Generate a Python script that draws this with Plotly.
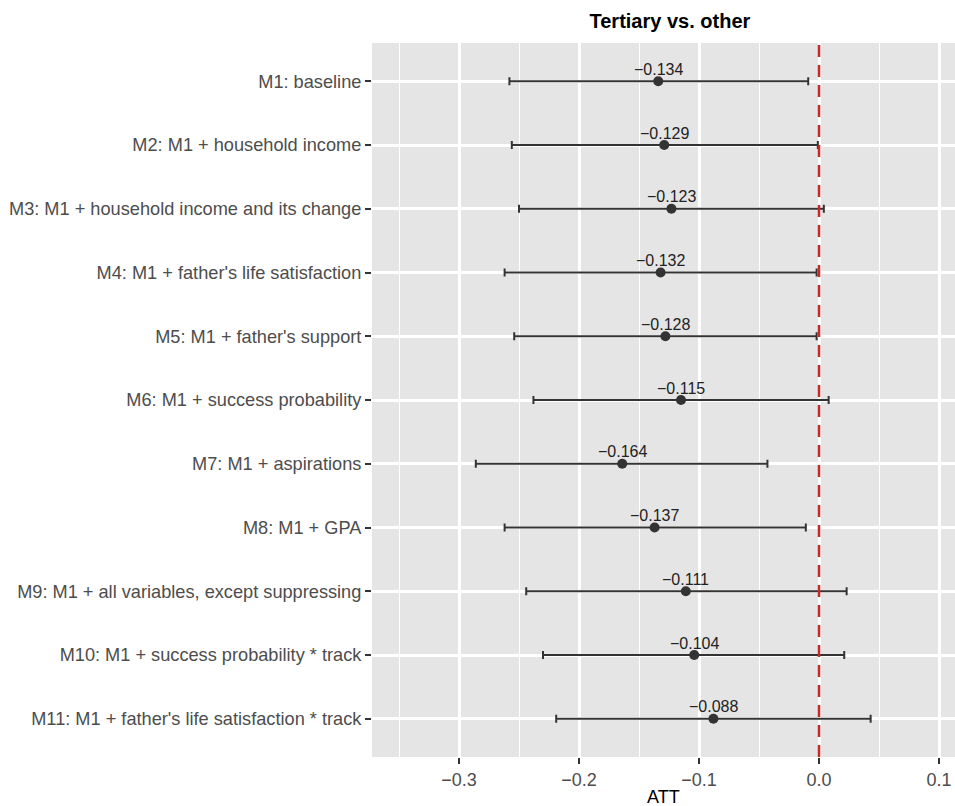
import plotly.graph_objects as go

models = [
    "M1: baseline",
    "M2: M1 + household income",
    "M3: M1 + household income and its change",
    "M4: M1 + father's life satisfaction",
    "M5: M1 + father's support",
    "M6: M1 + success probability",
    "M7: M1 + aspirations",
    "M8: M1 + GPA",
    "M9: M1 + all variables, except suppressing",
    "M10: M1 + success probability * track",
    "M11: M1 + father's life satisfaction * track",
]
att = [-0.134, -0.129, -0.123, -0.132, -0.128, -0.115, -0.164, -0.137, -0.111, -0.104, -0.088]
ci_low = [-0.258, -0.256, -0.250, -0.262, -0.254, -0.238, -0.286, -0.262, -0.244, -0.230, -0.219]
ci_high = [-0.009, -0.001, 0.004, -0.002, -0.002, 0.008, -0.043, -0.011, 0.023, 0.021, 0.043]
x_ticks = [-0.3, -0.2, -0.1, 0.0, 0.1]
x_tick_labels = ["\u22120.3", "\u22120.2", "\u22120.1", "0.0", "0.1"]

labels = [("\u2212%.3f" % abs(v)) if v < 0 else ("%.3f" % v) for v in att]
err_plus = [h - v for h, v in zip(ci_high, att)]
err_minus = [v - l for v, l in zip(att, ci_low)]

FONT = "Liberation Sans, Arial, sans-serif"

fig = go.Figure()
fig.add_trace(go.Scatter(
    x=att, y=models, mode="markers",
    marker=dict(size=10, color="#333333"),
    error_x=dict(type="data", symmetric=False, array=err_plus, arrayminus=err_minus,
                 color="#333333", thickness=2, width=4),
    showlegend=False, cliponaxis=False, hoverinfo="skip",
))

fig.add_shape(type="line", xref="x", yref="paper", x0=0, x1=0, y0=0, y1=1,
              line=dict(color="#CD2626", width=2.5, dash="12px,8px"), layer="above")

annots = [dict(x=v, y=m, text=t, showarrow=False, xanchor="center", yanchor="middle",
               yshift=12, font=dict(family=FONT, size=16, color="#222222"))
          for v, m, t in zip(att, models, labels)]
annots.append(dict(text="ATT", xref="paper", yref="paper", x=0.5, y=-40 / 714,
                   xanchor="center", yanchor="middle", showarrow=False,
                   font=dict(family=FONT, size=18, color="black")))

fig.update_layout(
    width=955, height=806,
    margin=dict(l=372, r=0, t=43, b=49),
    paper_bgcolor="white", plot_bgcolor="#E5E5E5",
    font=dict(family=FONT, size=18, color="#4D4D4D"),
    title=dict(text="<b>Tertiary vs. other</b>", x=0.511, xref="paper", xanchor="center",
               y=1 - 21 / 806, yref="container", yanchor="middle",
               font=dict(family=FONT, size=20, color="black")),
    annotations=annots,
)
fig.update_xaxes(
    range=[-0.3725, 0.1133], tickvals=x_ticks, ticktext=x_tick_labels,
    showgrid=True, gridcolor="white", gridwidth=2.5, zeroline=False,
    ticks="outside", ticklen=6, tickwidth=2, tickcolor="#333333",
    tickfont=dict(family=FONT, size=18, color="#4D4D4D"),
    minor=dict(tickvals=[-0.35, -0.25, -0.15, -0.05, 0.05], showgrid=True,
               gridcolor="white", gridwidth=1.2),
    showline=False,
)
fig.update_yaxes(
    type="category", categoryorder="array", categoryarray=models,
    range=[10.6, -0.6], showgrid=True, gridcolor="white", gridwidth=2.5,
    ticks="outside", ticklen=6, tickwidth=2, tickcolor="#333333",
    tickfont=dict(family=FONT, size=18.2, color="#4D4D4D"),
    automargin=False, zeroline=False, showline=False,
)

fig.write_html(
    "out.html",
    config={"displayModeBar": False},
    post_script="document.body.style.margin='0';document.body.style.overflow='hidden';",
)
